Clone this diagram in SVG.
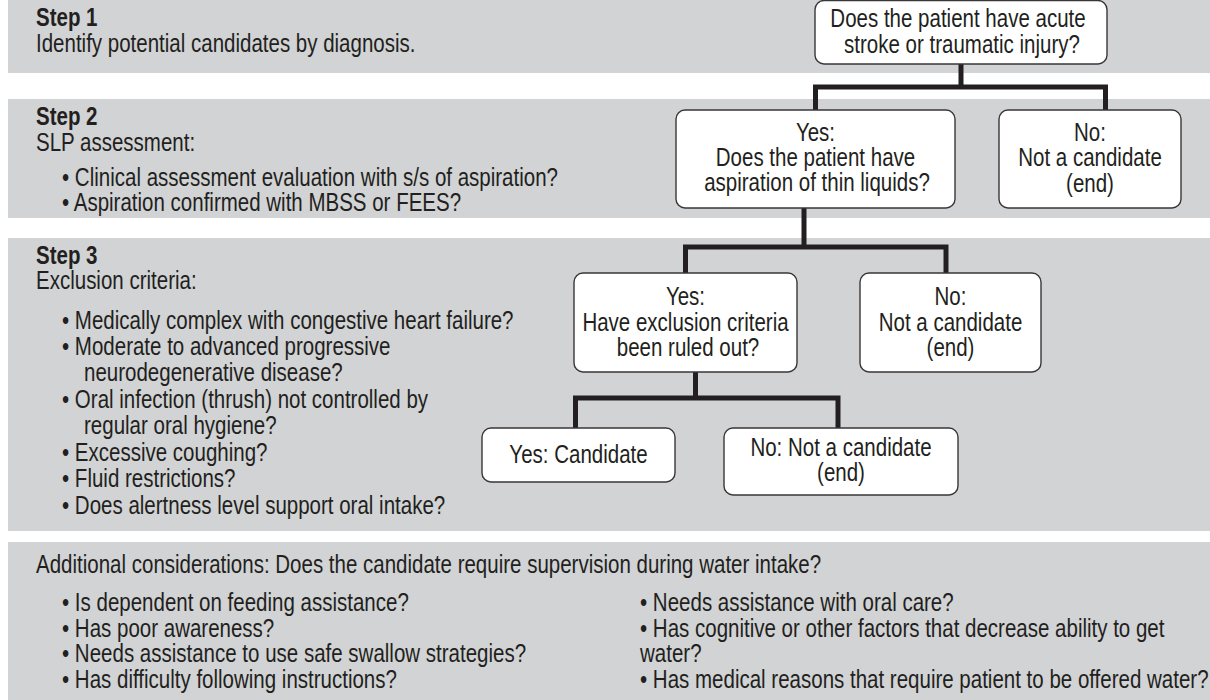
<svg xmlns="http://www.w3.org/2000/svg" width="1210" height="700" viewBox="0 0 1210 700">
<style>
text{font-family:'Liberation Sans',Arial,sans-serif;font-size:25px;fill:#231f20}
.b{font-weight:bold}
.m{text-anchor:middle}
.band{fill:#d1d3d4}
.box{fill:#fff;stroke:#3a3637;stroke-width:1.4}
.conn{fill:none;stroke:#231f20;stroke-width:5;stroke-linejoin:miter;stroke-linecap:butt}
</style>
<rect width="1210" height="700" fill="#fff"/>
<g id="bands">
<rect class="band" x="8" y="0" width="1202" height="73"/>
<rect class="band" x="8" y="99" width="1202" height="119"/>
<rect class="band" x="8" y="238" width="1202" height="293"/>
<rect class="band" x="8" y="542" width="1202" height="158"/>
</g>
<g id="step1">
<text class="b" transform="translate(36 26) scale(.82 1)">Step 1</text>
<text transform="translate(36 52) scale(.82 1)">Identify potential candidates by diagnosis.</text>
</g>
<g id="step2">
<text class="b" transform="translate(36 125) scale(.82 1)">Step 2</text>
<text transform="translate(36 151) scale(.82 1)">SLP assessment:</text>
<text transform="translate(62 186) scale(.82 1)">• Clinical assessment evaluation with s/s of aspiration?</text>
<text transform="translate(62 211) scale(.82 1)">• Aspiration confirmed with MBSS or FEES?</text>
</g>
<g id="step3">
<text class="b" transform="translate(36 264) scale(.82 1)">Step 3</text>
<text transform="translate(36 289) scale(.82 1)">Exclusion criteria:</text>
<text transform="translate(62 329) scale(.82 1)">• Medically complex with congestive heart failure?</text>
<text transform="translate(62 355) scale(.82 1)">• Moderate to advanced progressive</text>
<text transform="translate(84 381) scale(.82 1)">neurodegenerative disease?</text>
<text transform="translate(62 408) scale(.82 1)">• Oral infection (thrush) not controlled by</text>
<text transform="translate(84 434) scale(.82 1)">regular oral hygiene?</text>
<text transform="translate(62 461) scale(.82 1)">• Excessive coughing?</text>
<text transform="translate(62 487) scale(.82 1)">• Fluid restrictions?</text>
<text transform="translate(62 514) scale(.82 1)">• Does alertness level support oral intake?</text>
</g>
<g id="additional">
<text transform="translate(36 573) scale(.82 1)">Additional considerations: Does the candidate require supervision during water intake?</text>
<text transform="translate(62 611) scale(.82 1)">• Is dependent on feeding assistance?</text>
<text transform="translate(62 637) scale(.82 1)">• Has poor awareness?</text>
<text transform="translate(62 662) scale(.82 1)">• Needs assistance to use safe swallow strategies?</text>
<text transform="translate(62 688) scale(.82 1)">• Has difficulty following instructions?</text>
<text transform="translate(640 611) scale(.82 1)">• Needs assistance with oral care?</text>
<text transform="translate(640 637) scale(.82 1)">• Has cognitive or other factors that decrease ability to get</text>
<text transform="translate(640 662) scale(.82 1)">water?</text>
<text transform="translate(640 688) scale(.82 1)">• Has medical reasons that require patient to be offered water?</text>
</g>
<g id="connectors">
<path class="conn" d="M815.5,110 V87 H1105.5 V110 M961,64 V87"/>
<path class="conn" d="M685.5,273 V247 H946 V273 M804,208 V247"/>
<path class="conn" d="M575.5,428 V398 H838 V428 M695.5,372 V398"/>
</g>
<g id="n1">
<rect class="box" x="815" y="0.5" width="292" height="63.5" rx="9"/>
<text class="m" transform="translate(958 27) scale(.82 1)">Does the patient have acute</text>
<text class="m" transform="translate(962 53) scale(.82 1)">stroke or traumatic injury?</text>
</g>
<g id="n2">
<rect class="box" x="676" y="110" width="279" height="98" rx="9"/>
<text class="m" transform="translate(815.5 141) scale(.82 1)">Yes:</text>
<text class="m" transform="translate(815.5 166) scale(.82 1)">Does the patient have</text>
<text class="m" transform="translate(817 191) scale(.82 1)">aspiration of thin liquids?</text>
</g>
<g id="n3">
<rect class="box" x="999" y="110" width="182" height="98" rx="9"/>
<text class="m" transform="translate(1090 141) scale(.82 1)">No:</text>
<text class="m" transform="translate(1090 166) scale(.82 1)">Not a candidate</text>
<text class="m" transform="translate(1090 192) scale(.82 1)">(end)</text>
</g>
<g id="n4">
<rect class="box" x="574" y="273" width="223" height="99" rx="9"/>
<text class="m" transform="translate(685.5 305) scale(.82 1)">Yes:</text>
<text class="m" transform="translate(685.5 331) scale(.82 1)">Have exclusion criteria</text>
<text class="m" transform="translate(688 356) scale(.82 1)">been ruled out?</text>
</g>
<g id="n5">
<rect class="box" x="860" y="273" width="181" height="99" rx="9"/>
<text class="m" transform="translate(950.5 305) scale(.82 1)">No:</text>
<text class="m" transform="translate(950.5 331) scale(.82 1)">Not a candidate</text>
<text class="m" transform="translate(950.5 356) scale(.82 1)">(end)</text>
</g>
<g id="n6">
<rect class="box" x="482" y="428" width="193" height="54" rx="9"/>
<text class="m" transform="translate(578.5 463) scale(.82 1)">Yes: Candidate</text>
</g>
<g id="n7">
<rect class="box" x="724" y="428" width="234" height="67" rx="9"/>
<text class="m" transform="translate(841 456) scale(.82 1)">No: Not a candidate</text>
<text class="m" transform="translate(841 481) scale(.82 1)">(end)</text>
</g>
</svg>
